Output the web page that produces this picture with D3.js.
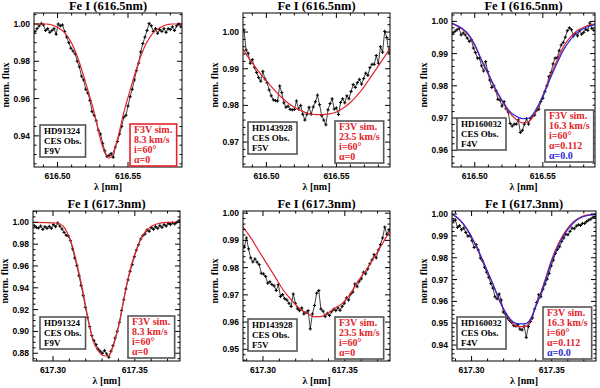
<!DOCTYPE html>
<html>
<head>
<meta charset="utf-8">
<script src="https://cdn.jsdelivr.net/npm/d3@7/dist/d3.min.js"></script>
<style>
  body { margin: 0; background: #fff; }
  svg { display: block; }
</style>
</head>
<body>
<div id="chart"></div>
<script>
// ---- data ----
const titles = ["Fe I (616.5nm)", "Fe I (617.3nm)"];
const xTickTop = [616.50, 616.55];
const xTickBot = [617.30, 617.35];

// wavelength grid of the observed spectra (nm)
const waveTop = [616.4840,616.4855,616.4870,616.4885,616.4900,616.4915,616.4930,616.4945,616.4960,616.4975,
  616.4990,616.5005,616.5020,616.5035,616.5050,616.5065,616.5080,616.5095,616.5110,616.5125,
  616.5140,616.5155,616.5170,616.5185,616.5200,616.5215,616.5230,616.5245,616.5260,616.5275,
  616.5290,616.5305,616.5320,616.5335,616.5350,616.5365,616.5380,616.5395,616.5410,616.5425,
  616.5440,616.5455,616.5470,616.5485,616.5500,616.5515,616.5530,616.5545,616.5560,616.5575,
  616.5590,616.5605,616.5620,616.5635,616.5650,616.5665,616.5680,616.5695,616.5710,616.5725,
  616.5740,616.5755,616.5770,616.5785,616.5800,616.5815,616.5830,616.5845,616.5860,616.5875];
const waveBot = [617.2886,617.2899,617.2912,617.2925,617.2938,617.2951,617.2964,617.2977,617.2990,617.3003,
  617.3016,617.3029,617.3042,617.3055,617.3068,617.3081,617.3094,617.3107,617.3120,617.3133,
  617.3146,617.3159,617.3172,617.3185,617.3198,617.3211,617.3224,617.3237,617.3250,617.3263,
  617.3276,617.3289,617.3302,617.3315,617.3328,617.3341,617.3354,617.3367,617.3380,617.3393,
  617.3406,617.3419,617.3432,617.3445,617.3458,617.3471,617.3484,617.3497,617.3510,617.3523,
  617.3536,617.3549,617.3562,617.3575,617.3588,617.3601,617.3614,617.3627,617.3640,617.3653,
  617.3666,617.3679,617.3692,617.3705,617.3718,617.3731,617.3744,617.3757,617.3770];

// observed normalised flux
const flux1 = [0.9960,0.9975,0.9990,1.0003,0.9995,0.9965,0.9975,0.9955,0.9965,0.9975,
  0.9945,1.0000,0.9990,0.9995,0.9960,0.9930,0.9900,0.9870,0.9855,0.9840,
  0.9800,0.9770,0.9720,0.9700,0.9650,0.9630,0.9590,0.9530,0.9510,0.9480,
  0.9430,0.9410,0.9360,0.9320,0.9290,0.9295,0.9305,0.9285,0.9340,0.9370,
  0.9410,0.9450,0.9500,0.9510,0.9560,0.9610,0.9650,0.9700,0.9750,0.9790,
  0.9850,0.9895,0.9930,0.9965,1.0003,0.9990,0.9960,0.9975,0.9950,0.9970,
  0.9960,0.9975,0.9955,0.9975,0.9970,0.9985,0.9965,0.9990,1.0000,0.9985];
const flux2 = [1.0006,0.9951,0.9942,0.9915,0.9925,0.9904,0.9890,0.9876,0.9866,0.9893,
  0.9872,0.9862,0.9842,0.9826,0.9815,0.9813,0.9812,0.9853,0.9835,0.9807,
  0.9795,0.9798,0.9789,0.9788,0.9789,0.9812,0.9790,0.9800,0.9776,0.9760,
  0.9776,0.9795,0.9776,0.9796,0.9810,0.9828,0.9802,0.9772,0.9760,0.9747,
  0.9788,0.9805,0.9818,0.9790,0.9793,0.9775,0.9808,0.9818,0.9807,0.9826,
  0.9818,0.9838,0.9857,0.9849,0.9862,0.9871,0.9858,0.9873,0.9888,0.9882,
  0.9903,0.9912,0.9912,0.9936,0.9915,0.9960,0.9945,1.0002,0.9985,0.9945];
const flux3 = [0.9964,0.9969,0.9974,0.9979,0.9958,0.9964,0.9958,0.9948,0.9938,0.9943,
  0.9917,0.9903,0.9886,0.9886,0.9862,0.9846,0.9875,0.9844,0.9818,0.9795,
  0.9800,0.9785,0.9758,0.9756,0.9737,0.9751,0.9729,0.9719,0.9683,0.9675,
  0.9681,0.9681,0.9694,0.9655,0.9662,0.9681,0.9698,0.9681,0.9699,0.9706,
  0.9709,0.9724,0.9727,0.9751,0.9761,0.9782,0.9800,0.9829,0.9841,0.9868,
  0.9886,0.9887,0.9909,0.9927,0.9935,0.9951,0.9971,0.9980,0.9974,0.9955,
  0.9963,0.9955,0.9972,0.9960,0.9966,0.9976,0.9972,0.9995,0.9978,0.9972];
const flux4 = [0.9970,0.9954,0.9948,0.9966,0.9936,0.9960,0.9945,0.9963,0.9945,0.9979,
  0.9960,0.9994,0.9966,0.9939,0.9908,0.9881,0.9875,0.9832,0.9756,0.9673,
  0.9603,0.9511,0.9420,0.9328,0.9221,0.9130,0.9044,0.8962,0.8916,0.8879,
  0.8837,0.8818,0.8800,0.8824,0.8794,0.8763,0.8818,0.8870,0.8940,0.9002,
  0.9084,0.9191,0.9289,0.9389,0.9472,0.9551,0.9612,0.9685,0.9747,0.9795,
  0.9847,0.9878,0.9893,0.9930,0.9918,0.9954,0.9936,0.9960,0.9945,0.9970,
  0.9954,0.9979,0.9966,0.9991,0.9979,0.9997,0.9985,1.0000,1.0015];
const flux5 = [0.9875,0.9909,0.9869,0.9836,0.9821,0.9832,0.9820,0.9811,0.9779,0.9777,
  0.9768,0.9743,0.9748,0.9738,0.9733,0.9716,0.9738,0.9694,0.9701,0.9686,
  0.9681,0.9669,0.9657,0.9703,0.9669,0.9649,0.9642,0.9652,0.9630,0.9635,
  0.9642,0.9575,0.9630,0.9661,0.9706,0.9716,0.9648,0.9640,0.9620,0.9632,
  0.9624,0.9638,0.9647,0.9642,0.9652,0.9643,0.9658,0.9669,0.9689,0.9681,
  0.9703,0.9710,0.9740,0.9730,0.9750,0.9759,0.9783,0.9777,0.9795,0.9814,
  0.9828,0.9848,0.9836,0.9865,0.9885,0.9909,0.9949,0.9922,0.9939];
const flux6 = [0.9969,0.9973,0.9939,0.9947,0.9928,0.9936,0.9916,0.9899,0.9901,0.9878,
  0.9847,0.9860,0.9835,0.9798,0.9786,0.9756,0.9734,0.9710,0.9682,0.9661,
  0.9621,0.9612,0.9634,0.9606,0.9551,0.9542,0.9524,0.9513,0.9504,0.9489,
  0.9487,0.9493,0.9473,0.9469,0.9487,0.9435,0.9484,0.9508,0.9524,0.9565,
  0.9595,0.9631,0.9621,0.9656,0.9679,0.9702,0.9728,0.9763,0.9789,0.9820,
  0.9838,0.9850,0.9875,0.9890,0.9908,0.9905,0.9921,0.9936,0.9933,0.9945,
  0.9951,0.9948,0.9957,0.9957,0.9966,0.9973,0.9977,0.9985,0.9988];

// simulated profiles
const mod1Wave = [616.4833,616.4920,616.5005,616.5055,616.5105,616.5152,616.5190,616.5225,616.5265,616.5295,616.5330,616.5365,
  616.5400,616.5435,616.5465,616.5505,616.5540,616.5578,616.5625,616.5675,616.5725,616.5810,616.5883];
const mod1Red = [1.000,1.000,0.998,0.995,0.989,0.980,0.971,0.962,0.951,0.941,0.932,0.928,
  0.932,0.941,0.951,0.962,0.971,0.980,0.989,0.995,0.998,1.000,1.000];
const modWaveTop = [616.4833,616.4900,616.4950,616.5000,616.5050,616.5100,616.5150,616.5200,616.5250,616.5300,616.5350,
  616.5400,616.5450,616.5500,616.5550,616.5600,616.5650,616.5700,616.5750,616.5800,616.5883];
const mod2Red = [0.9953,0.9915,0.9890,0.9867,0.9845,0.9825,0.9808,0.9795,0.9785,0.9778,0.9775,
  0.9775,0.9777,0.9782,0.9793,0.9808,0.9828,0.9852,0.9880,0.9908,0.9955];
const mod3Red = [0.9993,0.9978,0.9960,0.9925,0.9878,0.9835,0.9790,0.9752,0.9719,0.9697,0.9685,
  0.9690,0.9722,0.9770,0.9825,0.9875,0.9920,0.9950,0.9970,0.9982,0.9992];
const mod3Blue = [0.9995,0.9980,0.9962,0.9928,0.9880,0.9838,0.9793,0.9755,0.9724,0.9706,0.9698,
  0.9700,0.9727,0.9768,0.9818,0.9866,0.9910,0.9942,0.9964,0.9978,0.9990];
const mod4Wave = [617.2878,617.3021,617.3062,617.3092,617.3113,617.3143,617.3184,617.3215,617.3245,617.3276,617.3307,617.3337,
  617.3358,617.3378,617.3409,617.3439,617.3470,617.3500,617.3531,617.3561,617.3592,617.3633,617.3694,617.3776];
const mod4Red = [1.000,0.9994,0.9965,0.9890,0.9810,0.9640,0.9360,0.9110,0.8916,0.8824,0.8779,0.8773,
  0.8824,0.8916,0.9099,0.9343,0.9557,0.9710,0.9832,0.9908,0.9954,0.9985,1.000,1.000];
const mod5Wave = [617.2878,617.2923,617.2973,617.3024,617.3075,617.3126,617.3177,617.3227,617.3278,617.3309,
  617.3350,617.3390,617.3431,617.3481,617.3532,617.3583,617.3634,617.3685,617.3735,617.3776];
const mod5Red = [0.9949,0.9912,0.9863,0.9814,0.9765,0.9716,0.9679,0.9648,0.9630,0.9620,
  0.9620,0.9630,0.9648,0.9667,0.9703,0.9752,0.9795,0.9844,0.9893,0.9936];
const mod6Wave = [617.2878,617.2929,617.2970,617.3011,617.3051,617.3092,617.3133,617.3174,617.3215,617.3256,617.3296,617.3337,
  617.3368,617.3398,617.3429,617.3460,617.3490,617.3521,617.3562,617.3603,617.3643,617.3684,617.3735,617.3776];
const mod6Red = [1.000,0.9970,0.9931,0.9878,0.9817,0.9748,0.9679,0.9603,0.9542,0.9500,0.9484,0.9486,
  0.9514,0.9573,0.9634,0.9702,0.9771,0.9832,0.9893,0.9939,0.9970,0.9988,0.9997,1.000];
const mod6Blue = [1.000,0.9972,0.9933,0.9880,0.9819,0.9750,0.9680,0.9605,0.9546,0.9508,0.9497,0.9498,
  0.9520,0.9572,0.9628,0.9694,0.9762,0.9823,0.9885,0.9932,0.9965,0.9984,0.9995,0.9999];

// box texts
const stars = [["HD91324", "CES Obs.", "F9V"], ["HD143928", "CES Obs.", "F5V"], ["HD160032", "CES Obs.", "F4V"]];
const sims = [["F3V sim.", "8.3 km/s", "i=60°", "α=0"],
              ["F3V sim.", "23.5 km/s", "i=60°", "α=0"],
              ["F3V sim.", "16.3 km/s", "i=60°", "α=0.112", "α=0.0"]];

// ---- drawing ----
const RED = "#e3242b", BLUE = "#2a2ad8", GREY = "#555";
const svg = d3.select("#chart").append("svg").attr("width", 600).attr("height", 388)
    .style("font-family", "'Liberation Serif', 'DejaVu Serif', serif");

const top1 = {y0: 13, y1: 167}, row2 = {y0: 211, y1: 361};

const panels = [
  {x0: 34, x1: 182, r: top1, xDom: [616.4833, 616.5883], yDom: [0.9233, 1.0059], yTicks: [0.94, 0.96, 0.98, 1.00], yMinor: 0.005,
   xTicks: xTickTop, title: titles[0], wave: waveTop, flux: flux1,
   models: [{w: mod1Wave, f: mod1Red, c: RED}], star: stars[0], sim: sims[0],
   starPos: [40, 125], simPos: [130, 124], simBorder: RED},
  {x0: 243, x1: 390, r: top1, xDom: [616.4833, 616.5883], yDom: [0.9632, 1.0052], yTicks: [0.97, 0.98, 0.99, 1.00], yMinor: 0.002,
   xTicks: xTickTop, title: titles[0], wave: waveTop, flux: flux2,
   models: [{w: modWaveTop, f: mod2Red, c: RED}], star: stars[1], sim: sims[1],
   starPos: [248, 122], simPos: [335, 121], simBorder: GREY},
  {x0: 452, x1: 595, r: top1, xDom: [616.4833, 616.5883], yDom: [0.9548, 1.0026], yTicks: [0.96, 0.97, 0.98, 0.99, 1.00], yMinor: 0.002,
   xTicks: xTickTop, title: titles[0], wave: waveTop, flux: flux3,
   models: [{w: modWaveTop, f: mod3Red, c: RED}, {w: modWaveTop, f: mod3Blue, c: BLUE}], star: stars[2], sim: sims[2],
   starPos: [457, 118], simPos: [545, 110], simBorder: GREY},
  {x0: 33, x1: 180, r: row2, xDom: [617.2878, 617.3776], yDom: [0.8729, 1.0104], yTicks: [0.88, 0.90, 0.92, 0.94, 0.96, 0.98, 1.00], yMinor: 0.005,
   xTicks: xTickBot, title: titles[1], wave: waveBot, flux: flux4,
   models: [{w: mod4Wave, f: mod4Red, c: RED}], star: stars[0], sim: sims[0],
   starPos: [40, 317], simPos: [128, 316], simBorder: GREY},
  {x0: 243, x1: 390, r: row2, xDom: [617.2878, 617.3776], yDom: [0.9457, 1.0008], yTicks: [0.95, 0.96, 0.97, 0.98, 0.99, 1.00], yMinor: 0.002,
   xTicks: xTickBot, title: titles[1], wave: waveBot, flux: flux5,
   models: [{w: mod5Wave, f: mod5Red, c: RED}], star: stars[1], sim: sims[1],
   starPos: [248, 319], simPos: [335, 317], simBorder: GREY},
  {x0: 452, x1: 596, r: row2, xDom: [617.2878, 617.3776], yDom: [0.9327, 1.0014], yTicks: [0.94, 0.95, 0.96, 0.97, 0.98, 0.99, 1.00], yMinor: 0.002,
   xTicks: xTickBot, title: titles[1], wave: waveBot, flux: flux6,
   models: [{w: mod6Wave, f: mod6Red, c: RED}, {w: mod6Wave, f: mod6Blue, c: BLUE}], star: stars[2], sim: sims[2],
   starPos: [457, 317], simPos: [543, 307], simBorder: GREY}
];

function minorTicks(dom, step) {
  const a = Math.ceil(dom[0] / step - 1e-6), b = Math.floor(dom[1] / step + 1e-6);
  return d3.range(a, b + 1).map(i => +(i * step).toFixed(5));
}

// framed text block; line spacing 10px like the figure
function textBox(g, x, y, lines, colors, border, size) {
  const grp = g.append("g");
  lines.forEach((t, i) => {
    grp.append("text")
      .attr("x", x + 4).attr("y", y + 9 + i * 10)
      .attr("fill", colors[i])
      .style("font-size", size + "px").style("font-weight", "bold")
      .text(t);
  });
  const bb = grp.node().getBBox();
  grp.insert("rect", "text")
    .attr("x", x).attr("y", y)
    .attr("width", bb.width + 8).attr("height", lines.length * 10 + 2)
    .attr("fill", "#fff").attr("stroke", border).attr("stroke-width", 1.6);
}

panels.forEach((p, pi) => {
  const x = d3.scaleLinear().domain(p.xDom).range([p.x0, p.x1]);
  const y = d3.scaleLinear().domain(p.yDom).range([p.r.y1, p.r.y0]);
  const g = svg.append("g");
  const clipId = "clip" + pi;
  g.append("clipPath").attr("id", clipId).append("rect")
    .attr("x", p.x0).attr("y", p.r.y0).attr("width", p.x1 - p.x0).attr("height", p.r.y1 - p.r.y0);

  const plot = g.append("g").attr("clip-path", `url(#${clipId})`);

  // observed spectrum
  const obs = p.wave.map((w, i) => [w, p.flux[i]]);
  plot.append("path").datum(obs)
    .attr("fill", "none").attr("stroke", "#111").attr("stroke-width", 0.8)
    .attr("d", d3.line().x(d => x(d[0])).y(d => y(d[1])));
  plot.selectAll(".pt").data(obs).join("path")
    .attr("class", "pt")
    .attr("d", d => `M${x(d[0]) - 1.6},${y(d[1])}h3.2M${x(d[0])},${y(d[1]) - 1.6}v3.2`)
    .attr("stroke", "#000").attr("stroke-width", 1);

  // simulated profiles
  p.models.forEach(m => {
    const pts = m.w.map((w, i) => [w, m.f[i]]);
    plot.append("path").datum(pts)
      .attr("fill", "none").attr("stroke", m.c).attr("stroke-width", 1.2)
      .attr("d", d3.line().curve(d3.curveMonotoneX).x(d => x(d[0])).y(d => y(d[1])));
  });

  // frame
  g.append("rect").attr("x", p.x0).attr("y", p.r.y0)
    .attr("width", p.x1 - p.x0).attr("height", p.r.y1 - p.r.y0)
    .attr("fill", "none").attr("stroke", "#000").attr("stroke-width", 1);

  // ticks on all four sides, pointing inward
  const ticks = g.append("g").attr("stroke", "#000").attr("stroke-width", 1);
  minorTicks(p.xDom, 0.01).forEach(v => {
    const major = p.xTicks.some(t => Math.abs(t - v) < 1e-6), L = major ? 5 : 2.5;
    ticks.append("line").attr("x1", x(v)).attr("x2", x(v)).attr("y1", p.r.y1).attr("y2", p.r.y1 - L);
    ticks.append("line").attr("x1", x(v)).attr("x2", x(v)).attr("y1", p.r.y0).attr("y2", p.r.y0 + L);
  });
  minorTicks(p.yDom, p.yMinor).forEach(v => {
    const major = p.yTicks.some(t => Math.abs(t - v) < 1e-6), L = major ? 5 : 2.5;
    ticks.append("line").attr("y1", y(v)).attr("y2", y(v)).attr("x1", p.x0).attr("x2", p.x0 + L);
    ticks.append("line").attr("y1", y(v)).attr("y2", y(v)).attr("x1", p.x1).attr("x2", p.x1 - L);
  });

  // tick labels
  g.selectAll(".yl").data(p.yTicks).join("text")
    .attr("x", p.x0 - 4).attr("y", d => y(d) + 3)
    .attr("text-anchor", "end")
    .style("font-family", "'Liberation Sans', Arial, sans-serif")
    .style("font-weight", "bold").style("font-size", "8.5px")
    .text(d3.format(".2f"));
  g.selectAll(".xl").data(p.xTicks).join("text")
    .attr("x", d => x(d)).attr("y", p.r.y1 + 12)
    .attr("text-anchor", "middle")
    .style("font-family", "'Liberation Sans', Arial, sans-serif")
    .style("font-weight", "bold").style("font-size", "8.5px")
    .text(d3.format(".2f"));

  // titles and axis labels
  const cx = (p.x0 + p.x1) / 2;
  g.append("text").attr("x", cx).attr("y", p.r.y0 - 3)
    .attr("text-anchor", "middle").style("font-size", "12.5px").style("font-weight", "bold")
    .text(p.title);
  g.append("text").attr("x", cx).attr("y", p.r.y1 + 23)
    .attr("text-anchor", "middle").style("font-size", "10px").style("font-weight", "bold")
    .text("λ [nm]");
  g.append("text")
    .attr("transform", `translate(${p.x0 - 25},${(p.r.y0 + p.r.y1) / 2 - 5}) rotate(-90)`)
    .attr("text-anchor", "middle").style("font-size", "10px").style("font-weight", "bold")
    .text("norm. flux");

  // boxes
  textBox(g, p.starPos[0], p.starPos[1], p.star, p.star.map(() => "#000"), GREY, 9);
  const simColors = p.sim.map((t, i) => (i === 4 ? BLUE : RED));
  textBox(g, p.simPos[0], p.simPos[1], p.sim, simColors, p.simBorder, 10);
});
</script>
</body>
</html>
